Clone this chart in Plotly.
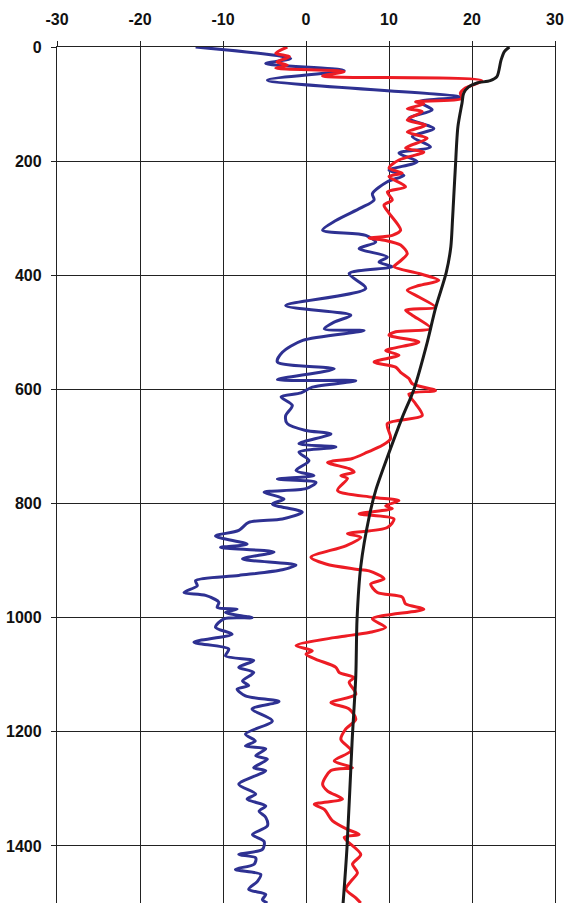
import plotly.graph_objects as go

# Black curve (value, depth)
black_val = [24.5, 23.9, 23.5, 23.0, 22.2, 20.6, 19.6, 19.0, 18.8, 18.3, 18.0, 17.8, 17.65, 17.45,
             16.9, 15.6, 14.6, 13.0, 11.6, 9.8, 8.4, 7.6, 6.6, 6.15, 6.0, 5.55, 4.94, 4.46]
black_depth = [0, 8, 23, 52, 59, 63, 70, 81, 98, 140, 210, 263, 303, 350,
               395, 458, 518, 600, 649, 719, 777, 824, 910, 1002, 1102, 1218, 1403, 1502]

# Red curve
red_val = [-2.25, -3.65, -2.0, -3.5, -2.25, -3.65, 4.6, 2.0, 21.2, 19.2, 18.6, 18.8, 13.2, 14.2,
           12.2, 14.0, 12.2, 14.4, 12.2, 14.6, 12.0, 14.2, 11.2, 10.0, 11.6, 10.0, 12.0, 9.8,
           10.4, 9.4, 10.0, 11.4, 10.4, 7.6, 9.6, 11.4, 12.2, 11.2, 10.6, 13.6, 16.0, 13.6,
           12.2, 13.6, 15.6, 12.0, 12.8, 15.0, 10.8, 10.0, 13.6, 9.6, 11.2, 8.2, 10.8, 11.4,
           12.4, 12.8, 15.6, 12.4, 13.2, 14.0, 9.8, 10.2, 9.2, 7.4, 5.6, 2.6, 5.2, 5.8, 4.2,
           5.0, 3.8, 8.0, 11.2, 9.6, 10.4, 6.4, 10.6, 9.8, 5.0, 6.6, 4.8, 0.6, 2.4, 6.0, 7.6,
           9.4, 7.8, 8.6, 11.6, 12.0, 14.2, 8.0, 9.6, 7.6, 4.8, 3.4, -1.2, 0.76, 0.0, 1.2,
           3.6, 4.0, 5.8, 5.2, 6.0, 3.0, 5.2, 6.0, 4.8, 4.2, 5.4, 3.4, 5.6, 3.0, 2.0, 2.6,
           4.4, 1.0, 2.2, 3.2, 5.0, 6.4, 4.6, 6.6, 5.6, 6.2, 5.4, 4.8, 6.0, 6.6]
red_depth = [0, 11, 17, 26, 32, 37, 43, 51, 59, 72, 81, 90, 96, 100,
             108, 113, 128, 137, 149, 160, 177, 184, 198, 212, 221, 227, 245, 254,
             268, 277, 291, 321, 330, 335, 339, 347, 362, 377, 385, 397, 409, 418,
             426, 438, 456, 461, 470, 493, 499, 505, 517, 532, 540, 552, 561, 570,
             581, 590, 602, 608, 625, 646, 660, 686, 698, 710, 721, 728, 739, 745, 751,
             756, 777, 789, 795, 804, 809, 818, 827, 842, 853, 859, 874, 894, 906, 915, 918,
             932, 941, 956, 964, 976, 985, 1002, 1017, 1026, 1032, 1035, 1049, 1058, 1064, 1073,
             1087, 1096, 1105, 1113, 1134, 1149, 1160, 1178, 1195, 1213, 1233, 1251, 1263, 1268, 1292, 1304,
             1318, 1327, 1336, 1356, 1371, 1380, 1385, 1415, 1432, 1447, 1462, 1476, 1491, 1500]

# Blue curve
blue_val = [-13.3, -1.85, -4.85, 4.6, -4.65, 18.6, 13.6, 15.2, 12.4, 15.4, 12.8, 15.0, 11.2, 13.4,
            10.0, 11.8, 9.8, 8.0, 8.2, 6.6, 3.6, 2.0, 7.2, 8.4, 6.4, 9.8, 8.8, 10.4, 5.2, 7.2,
            -2.45, 5.4, 3.4, 2.2, 7.0, -0.4, -2.85, -3.45, 3.4, -3.45, 6.0, 0.76, -0.6,
            -3.0, -1.65, -2.45, -2.25, -0.04, 3.0, -0.85, 3.6, -0.85, 0.36, -1.2, 0.96, -3.45,
            1.2, 0.0, -5.05, -2.65, -4.05, -0.45, -2.85, -6.9, -8.1, -10.9, -7.1, -10.3, -3.85,
            -7.65, -1.2, -2.85, -8.1, -13.3, -13.1, -14.7, -12.1, -10.5, -10.7, -8.3, -9.7, -6.5,
            -9.9, -10.9, -8.9, -13.5, -9.3, -9.7, -6.3, -8.1, -6.3, -7.65, -6.9, -8.3, -7.3,
            -3.25, -6.5, -4.05, -7.3, -6.1, -7.3, -4.85, -6.05, -4.65, -6.3, -4.85, -8.1, -6.05,
            -7.1, -4.85, -5.65, -4.85, -4.65, -6.45, -5.05, -5.25, -8.1, -6.05, -6.25, -8.5,
            -5.45, -5.85, -6.9, -4.85, -5.25, -4.65]
blue_depth = [0, 20, 29, 41, 58, 88, 96, 110, 125, 143, 157, 175, 186, 201,
              216, 225, 236, 257, 268, 282, 304, 321, 330, 342, 353, 368, 377, 385, 397, 423,
              453, 470, 482, 494, 497, 514, 535, 552, 564, 583, 585, 596, 606,
              613, 628, 646, 660, 672, 678, 695, 701, 710, 725, 742, 751, 757,
              763, 774, 780, 792, 801, 815, 827, 833, 847, 857, 871, 877, 885,
              897, 908, 916, 926, 935, 944, 956, 961, 973, 982, 985, 991, 1000,
              1002, 1017, 1029, 1043, 1055, 1067, 1075, 1087, 1096, 1111, 1119, 1125, 1137,
              1147, 1160, 1181, 1204, 1216, 1225, 1230, 1242, 1248, 1263, 1268, 1292, 1309,
              1318, 1330, 1339, 1350, 1365, 1380, 1392, 1406, 1415, 1421, 1432, 1441,
              1450, 1462, 1476, 1485, 1494, 1500]

x_ticks = [-30, -20, -10, 0, 10, 20, 30]
y_ticks = [0, 200, 400, 600, 800, 1000, 1200, 1400]

fig = go.Figure()
fig.add_trace(go.Scatter(x=blue_val, y=blue_depth, mode="lines",
                         line=dict(color="#2E3192", width=3, shape="spline", smoothing=0.8)))
fig.add_trace(go.Scatter(x=red_val, y=red_depth, mode="lines",
                         line=dict(color="#ED1C24", width=3, shape="spline", smoothing=0.8)))
fig.add_trace(go.Scatter(x=black_val, y=black_depth, mode="lines",
                         line=dict(color="#1A1A1A", width=3, shape="spline", smoothing=0.8)))

axfont = dict(family="Liberation Sans, Arial, sans-serif", size=16, color="#111", weight="bold")
fig.update_layout(
    width=567, height=903,
    margin=dict(l=57, r=12, t=47, b=0),
    paper_bgcolor="white", plot_bgcolor="white",
    showlegend=False,
    xaxis=dict(side="top", range=[-30, 30], tickvals=x_ticks, ticktext=[str(v) for v in x_ticks],
               showgrid=True, gridcolor="#222", gridwidth=1.3, zeroline=False,
               ticks="outside", ticklen=5, tickcolor="#222", tickwidth=1.3,
               tickfont=axfont, ticklabelstandoff=9, automargin=False,
               showline=True, linecolor="#222", linewidth=1.3, mirror=False),
    yaxis=dict(range=[1500, 0], tickvals=y_ticks, ticktext=[str(v) for v in y_ticks],
               showgrid=True, gridcolor="#222", gridwidth=1.3, zeroline=False,
               ticks="outside", ticklen=5, tickcolor="#222", tickwidth=1.3,
               tickfont=axfont, ticklabelstandoff=6, automargin=False,
               showline=True, linecolor="#222", linewidth=1.3, mirror=True),
)
fig.write_html(
    "out.html",
    config={"displayModeBar": False},
    post_script="document.documentElement.style.margin='0';document.body.style.margin='0';"
                "document.body.style.overflow='hidden';",
)
